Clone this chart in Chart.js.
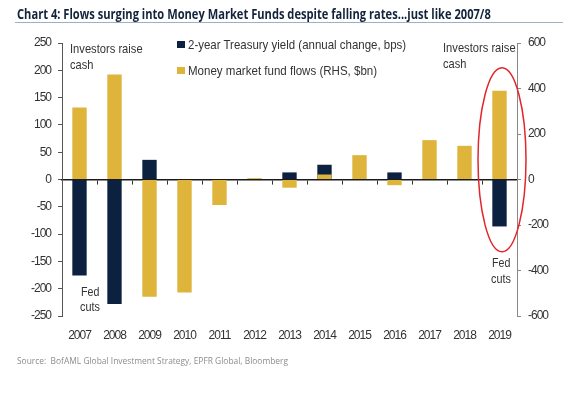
<!DOCTYPE html>
<html>
<head>
<meta charset="utf-8">
<script src="https://cdn.jsdelivr.net/npm/chart.js@4"></script>
<style>
  body { margin: 0; background: #fff; }
  #wrap { position: relative; width: 583px; height: 394px; overflow: hidden; }
  #chart { position: absolute; left: 0; top: 0; }
  .txt { position: absolute; white-space: nowrap; font-family: "Liberation Sans", Arial, sans-serif; color: #333; font-size: 13px; line-height: 16px; transform-origin: 0 0; }
  #title { left: 17px; top: 6px; font-family: "Open Sans", "Liberation Sans", sans-serif; font-weight: bold; font-size: 14px; color: #14233c; }
  #rule { position: absolute; left: 15px; top: 22px; width: 548px; height: 0; border-top: 1.5px solid #9db1c6; }
  #source { left: 17px; top: 355px; font-family: "Open Sans", "Liberation Sans", sans-serif; font-size: 9px; line-height: 12px; color: #8c8c8c; }
  .sq { position: absolute; width: 8px; height: 7px; }
</style>
</head>
<body>
<div id="wrap">
  <canvas id="chart" width="583" height="394"></canvas>
  <div id="title" class="txt" data-w="474">Chart 4: Flows surging into Money Market Funds despite falling rates...just like 2007/8</div>
  <div id="rule"></div>

  <div class="sq" style="left:177px;top:41px;background:#0c2140"></div>
  <div class="txt" style="left:188px;top:37px" data-w="218">2-year Treasury yield (annual change, bps)</div>
  <div class="sq" style="left:177px;top:67px;background:#deb43b"></div>
  <div class="txt" style="left:188px;top:63px" data-w="189">Money market fund flows (RHS, $bn)</div>

  <div class="txt" style="left:70px;top:41px" data-w="73">Investors raise</div>
  <div class="txt" style="left:70px;top:57px" data-w="23">cash</div>
  <div class="txt" style="left:443px;top:40px" data-w="73">Investors raise</div>
  <div class="txt" style="left:443px;top:56px" data-w="23">cash</div>
  <div class="txt" style="left:81px;top:284px" data-w="18">Fed</div>
  <div class="txt" style="left:80px;top:299px" data-w="20">cuts</div>
  <div class="txt" style="left:492px;top:255px" data-w="18">Fed</div>
  <div class="txt" style="left:491px;top:271px" data-w="20">cuts</div>

  <div id="source" class="txt" data-w="271">Source:&nbsp; BofAML Global Investment Strategy, EPFR Global, Bloomberg</div>
</div>
<script>
'use strict'

const years = ['2007', '2008', '2009', '2010', '2011', '2012', '2013', '2014', '2015', '2016', '2017', '2018', '2019'];
// 2-year Treasury yield, annual change (bps) - left axis
const yieldChange = [-176, -228, 36, 0, 0, 0, 13, 27, 0, 13, 0, 0, -86];
// money market fund flows ($bn) - right axis
const fundFlows = [317, 462, -515, -497, -112, 6, -36, 22, 107, -25, 173, 148, 390];

const leftTicks = [-250, 250, 50];   // min, max, step
const rightTicks = [-600, 600, 200];

const tickFont = { family: '"Liberation Sans", Arial, sans-serif', size: 12 };

// squeeze each text line to the width it has in the picture (narrow font not installed)
document.querySelectorAll('[data-w]').forEach(function (el) {
  el.style.transform = 'scaleX(' + (el.dataset.w / el.offsetWidth) + ')';
});

// tighter letters on the canvas, to look like the narrow face of the original
const narrowText = {
  id: 'narrowText',
  beforeDraw(chart) {
    chart.ctx.letterSpacing = '-1px';
  }
};

// red ring round 2019
const ring = {
  id: 'ring',
  afterDatasetsDraw(chart) {
    const ctx = chart.ctx;
    const cx = chart.scales.x.getPixelForValue(12) + 2.5;
    const cy = chart.scales.y.getPixelForValue(36);
    ctx.save();
    ctx.beginPath();
    ctx.ellipse(cx, cy, 24, 92, 0, 0, Math.PI * 2);
    ctx.strokeStyle = '#e0262b';
    ctx.lineWidth = 1.5;
    ctx.stroke();
    ctx.restore();
  }
};

new Chart(document.getElementById('chart'), {
  type: 'bar',
  data: {
    labels: years,
    datasets: [{
      label: '2-year Treasury yield (annual change, bps)',
      data: yieldChange,
      backgroundColor: '#0c2140',
      yAxisID: 'y',
      order: 1
    }, {
      label: 'Money market fund flows (RHS, $bn)',
      data: fundFlows,
      backgroundColor: '#deb43b',
      yAxisID: 'y1',
      order: 0
    }]
  },
  options: {
    responsive: false,
    animation: false,
    layout: { padding: { top: 43, left: 0, right: 0, bottom: 0 } },
    datasets: { bar: { grouped: false, barPercentage: 0.41, categoryPercentage: 1 } },
    plugins: { legend: { display: false }, tooltip: { enabled: false } },
    scales: {
      x: {
        offset: true,
        grid: { display: false },
        border: { display: false },
        ticks: { padding: 4, color: '#333', font: tickFont },
        afterFit(s) { s.height = 78; }
      },
      x2: {
        type: 'category',
        position: { y: 0 },
        offset: true,
        grid: { drawOnChartArea: false, offset: true, tickLength: 4, color: '#333' },
        border: { color: '#1a1a1a', width: 1.6 },
        ticks: { display: false }
      },
      y: {
        position: 'left',
        min: leftTicks[0],
        max: leftTicks[1],
        ticks: { stepSize: leftTicks[2], padding: 7, color: '#333', font: tickFont },
        grid: { drawOnChartArea: false, tickLength: 4, color: '#555' },
        border: { color: '#555' },
        afterFit(s) { s.width = 62; }
      },
      y1: {
        position: 'right',
        min: rightTicks[0],
        max: rightTicks[1],
        ticks: { stepSize: rightTicks[2], padding: 7, color: '#333', font: tickFont },
        grid: { drawOnChartArea: false, tickLength: 4, color: '#888' },
        border: { color: '#888' },
        afterFit(s) { s.width = 66; }
      }
    }
  },
  plugins: [narrowText, ring]
});
</script>
</body>
</html>
